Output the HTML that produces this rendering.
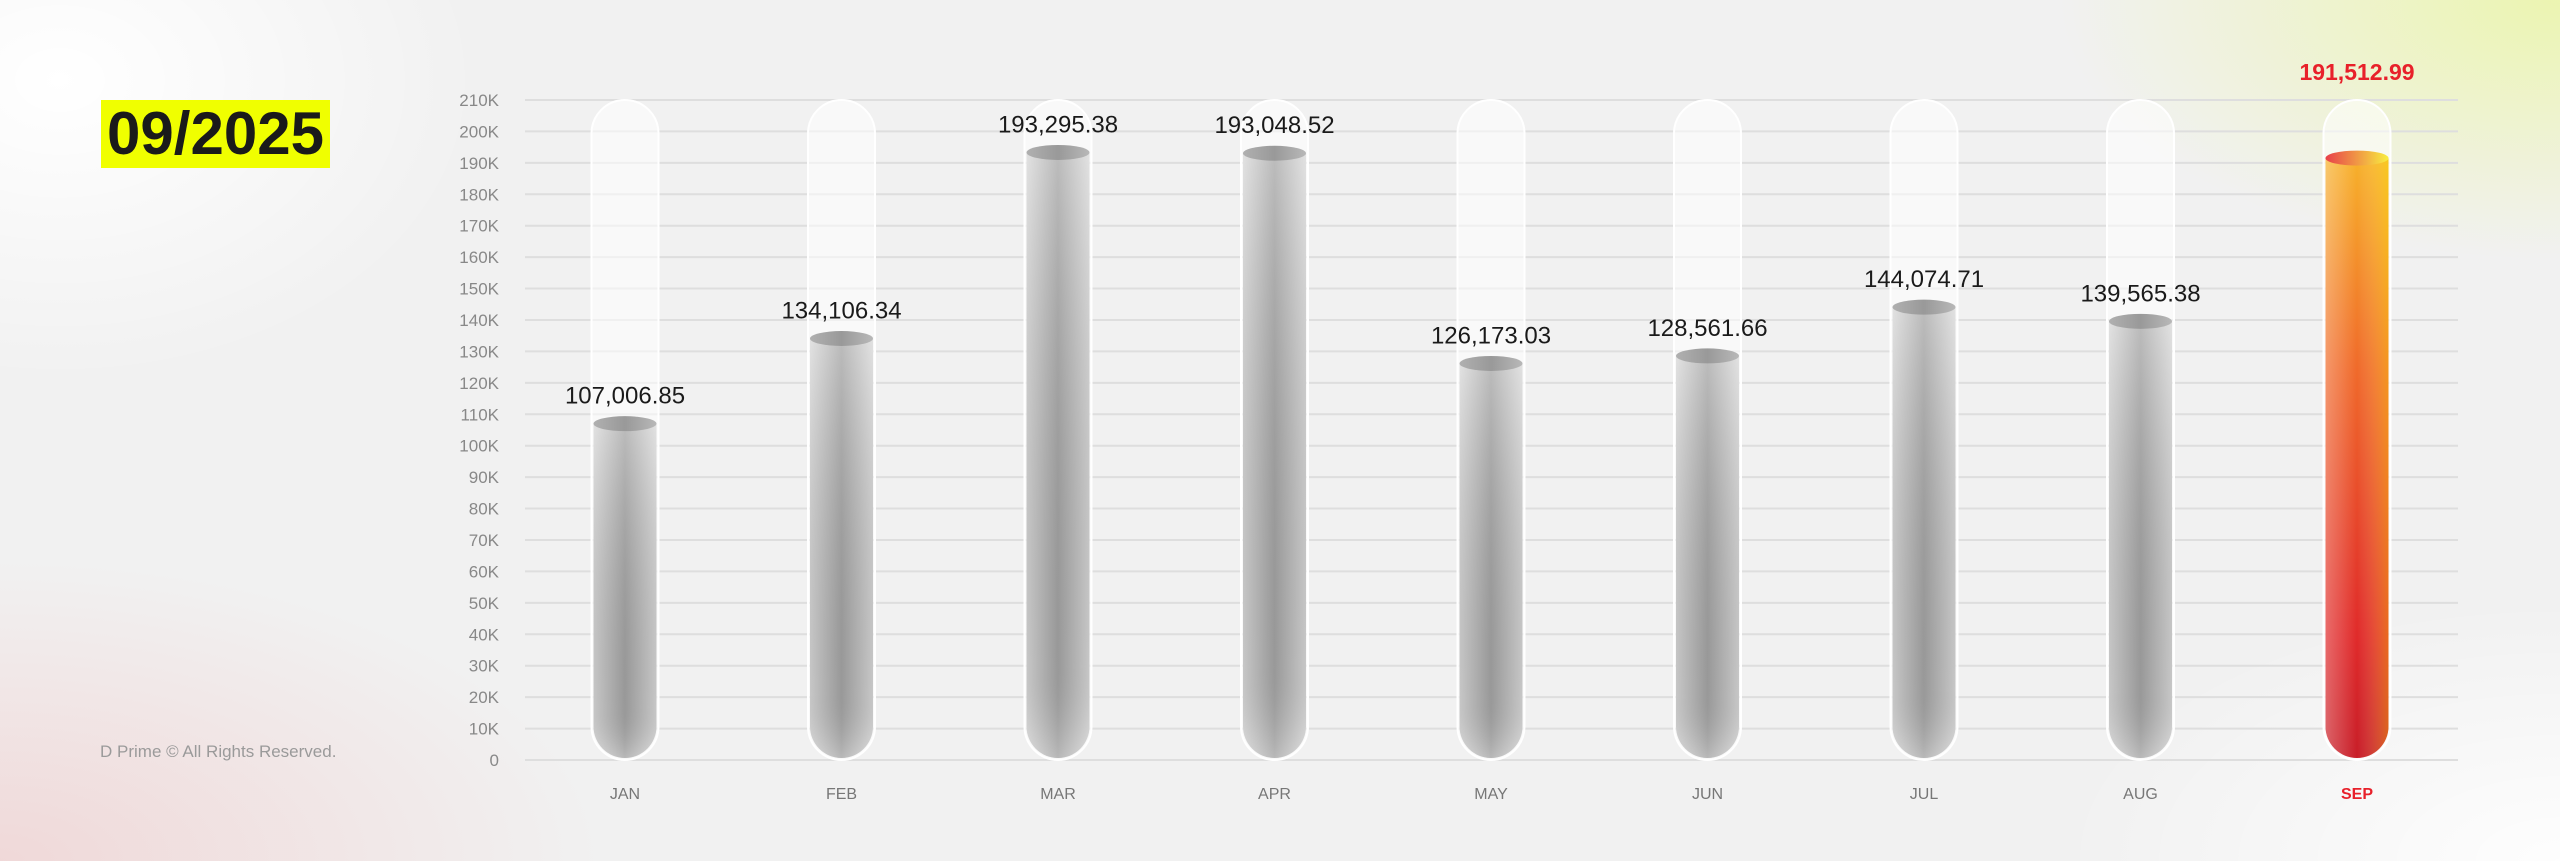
<!DOCTYPE html>
<html><head><meta charset="utf-8"><style>
html,body{margin:0;padding:0}
body{width:2560px;height:861px;overflow:hidden;background:#f1f1f1;font-family:"Liberation Sans",sans-serif;position:relative}
.bg{position:absolute;inset:0;background:
radial-gradient(ellipse 420px 300px at 60px 80px,rgba(255,255,255,1),rgba(255,255,255,0) 100%),
radial-gradient(ellipse 600px 300px at 0px 861px,rgba(240,200,200,.6),rgba(240,200,200,0) 100%),
radial-gradient(ellipse 500px 260px at 2560px 0px,rgba(235,245,170,.9),rgba(235,245,170,0) 100%),
radial-gradient(ellipse 500px 260px at 2560px 861px,rgba(255,255,255,.9),rgba(255,255,255,0) 100%);}
.yr{position:absolute;left:101px;top:100px;width:229px;height:68px;background:#f0ff00;font-weight:bold;font-size:60px;line-height:68px;text-align:center;color:#1a1a1a}
.ft{position:absolute;left:100px;top:742px;font-size:17px;color:#9a9a9a}
svg{position:absolute;left:0;top:0}
</style></head><body><div class="bg"></div>
<div class="yr">09/2025</div>
<div class="ft">D Prime © All Rights Reserved.</div>
<svg width="2560" height="861" viewBox="0 0 2560 861">
<defs>
<linearGradient id="g" x1="0" x2="1" y1="0" y2="0"><stop offset="0" stop-color="#d8d8d8"/><stop offset=".5" stop-color="#a6a6a6"/><stop offset="1" stop-color="#d8d8d8"/></linearGradient>
<linearGradient id="gv" x1="0" x2="0" y1="0" y2="1"><stop offset="0" stop-color="#fff" stop-opacity=".25"/><stop offset=".85" stop-color="#000" stop-opacity=".08"/><stop offset="1" stop-color="#fff" stop-opacity=".2"/></linearGradient>
<linearGradient id="ge" x1="0" x2="1"><stop offset="0" stop-color="#b0b0b0"/><stop offset=".5" stop-color="#999"/><stop offset="1" stop-color="#b8b8b8"/></linearGradient>
<linearGradient id="r" x1="0" x2="0" y1="0" y2="1"><stop offset="0" stop-color="#f7b12a"/><stop offset=".35" stop-color="#f06a2a"/><stop offset=".8" stop-color="#e02a2a"/><stop offset="1" stop-color="#c81e28"/></linearGradient>
<linearGradient id="rh" x1="0" x2="1"><stop offset="0" stop-color="#fff" stop-opacity=".3"/><stop offset=".5" stop-color="#fff" stop-opacity="0"/><stop offset="1" stop-color="#ff0" stop-opacity=".3"/></linearGradient>
<linearGradient id="re" x1="0" x2="1"><stop offset="0" stop-color="#e8404a"/><stop offset="1" stop-color="#f8ee40"/></linearGradient>
</defs>
<g id="grid" stroke="#dedede" stroke-width="2"></g>
<g id="yl" font-size="17" fill="#888" text-anchor="end"></g>
<g id="bars"></g>
</svg>
<script>
var ns="http://www.w3.org/2000/svg";
function el(t,a,p,txt){var e=document.createElementNS(ns,t);for(var k in a)e.setAttribute(k,a[k]);if(txt)e.textContent=txt;p.appendChild(e);return e;}
var grid=document.getElementById('grid'),yl=document.getElementById('yl'),bars=document.getElementById('bars');
var y0=760,step=31.43;
for(var i=0;i<=21;i++){var y=y0-i*step;el('line',{x1:525,x2:2458,y1:y,y2:y},grid);el('text',{x:499,y:y+6},yl,i?i*10+'K':'0');}
var v=[107006.85,134106.34,193295.38,193048.52,126173.03,128561.66,144074.71,139565.38,191512.99];
var m=['JAN','FEB','MAR','APR','MAY','JUN','JUL','AUG','SEP'];
v.forEach(function(val,i){
var cx=625+216.5*i,w=67,r=33.5,x0=cx-r,x1=cx+r;
var vy=y0-val/10000*step;
var sep=i==8;
el('rect',{x:x0,y:100,width:w,height:660,rx:r,fill:'#fff','fill-opacity':.55,stroke:'#fff','stroke-width':2},bars);
var fx0=x0+2,fx1=x1-2,fr=r-2;
var d='M'+fx0+','+vy+' L'+fx0+','+(y0-r)+' A'+fr+','+fr+' 0 0 0 '+fx1+','+(y0-r)+' L'+fx1+','+vy+' Z';
el('path',{d:d,fill:sep?'url(#r)':'url(#g)'},bars);
el('path',{d:d,fill:sep?'url(#rh)':'url(#gv)'},bars);
el('ellipse',{cx:cx,cy:vy,rx:fr,ry:7.5,fill:sep?'url(#re)':'url(#ge)'},bars);
var s=val.toLocaleString('en-US',{minimumFractionDigits:2,maximumFractionDigits:2});
if(sep)el('text',{x:cx,y:80,'text-anchor':'middle','font-size':23,'font-weight':'bold',fill:'#e8202a'},bars,s);
else el('text',{x:cx,y:vy-20,'text-anchor':'middle','font-size':24,fill:'#1a1a1a'},bars,s);
el('text',{x:cx,y:799,'text-anchor':'middle','font-size':16,fill:sep?'#e8202a':'#777','font-weight':sep?'bold':'normal'},bars,m[i]);
});
</script>
</body></html>
